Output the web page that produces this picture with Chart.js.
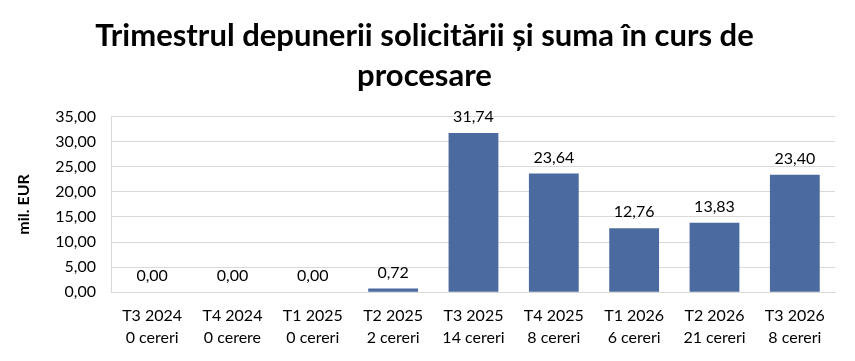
<!DOCTYPE html>
<html>
<head>
<meta charset="utf-8">
<script src="https://cdn.jsdelivr.net/npm/chart.js@4"></script>
<style>
  html, body { margin: 0; padding: 0; background: #ffffff; }
  #wrap { width: 855px; height: 361px; }
</style>
</head>
<body>
<div id="wrap"><canvas id="quarterChart" width="855" height="361"></canvas></div>
<script>
// Quarters (two-line labels) and amounts in mil. EUR
const quarters = ['T3 2024', 'T4 2024', 'T1 2025', 'T2 2025', 'T3 2025', 'T4 2025', 'T1 2026', 'T2 2026', 'T3 2026'];
const requestCounts = ['0 cereri', '0 cerere', '0 cereri', '2 cereri', '14 cereri', '8 cereri', '6 cereri', '21 cereri', '8 cereri'];
const amounts = [0.00, 0.00, 0.00, 0.72, 31.74, 23.64, 12.76, 13.83, 23.40];
const titleLines = ['Trimestrul depunerii solicitării și suma în curs de', 'procesare'];

const fontFamily = 'Lato, "Open Sans", sans-serif';
const fmt = v => v.toFixed(2).replace('.', ',');

// Simple value labels above bars
const valueLabels = {
    id: 'valueLabels',
    afterDatasetsDraw(chart) {
        const ctx = chart.ctx;
        const meta = chart.getDatasetMeta(0);
        ctx.save();
        ctx.font = '16px ' + fontFamily;
        ctx.fillStyle = '#000000';
        ctx.textAlign = 'center';
        ctx.textBaseline = 'bottom';
        meta.data.forEach((bar, i) => {
            ctx.fillText(fmt(amounts[i]), bar.x, bar.y - 8);
        });
        ctx.restore();
    }
};

const ctx = document.getElementById('quarterChart').getContext('2d');
new Chart(ctx, {
    type: 'bar',
    data: {
        labels: quarters.map((q, i) => [q, requestCounts[i]]),
        datasets: [{
            data: amounts,
            backgroundColor: '#4a6aa0',
            categoryPercentage: 1,
            barPercentage: 0.62
        }]
    },
    options: {
        responsive: false,
        animation: false,
        layout: { padding: { left: 14, right: 20, top: 12, bottom: 0 } },
        plugins: {
            legend: { display: false },
            tooltip: { enabled: false },
            title: {
                display: true,
                text: titleLines,
                color: '#000000',
                font: { family: fontFamily, size: 31, weight: 'bold', lineHeight: 1.3 },
                padding: { top: 4, bottom: 20 }
            }
        },
        scales: {
            y: {
                min: 0,
                max: 35,
                ticks: {
                    stepSize: 5,
                    color: '#000000',
                    padding: 16,
                    font: { family: fontFamily, size: 16 },
                    callback: v => fmt(v)
                },
                grid: { color: '#d9d9d9', drawTicks: false },
                border: { color: '#d9d9d9' },
                title: {
                    display: true,
                    text: 'mil. EUR',
                    color: '#000000',
                    padding: { top: 0, bottom: 6 },
                    font: { family: fontFamily, size: 16, weight: 'bold' }
                }
            },
            x: {
                ticks: {
                    color: '#000000',
                    padding: 12,
                    font: { family: fontFamily, size: 16, lineHeight: 1.4 },
                    maxRotation: 0
                },
                grid: { display: false, drawTicks: false },
                border: { color: '#d9d9d9' }
            }
        }
    },
    plugins: [valueLabels]
});
</script>
</body>
</html>
